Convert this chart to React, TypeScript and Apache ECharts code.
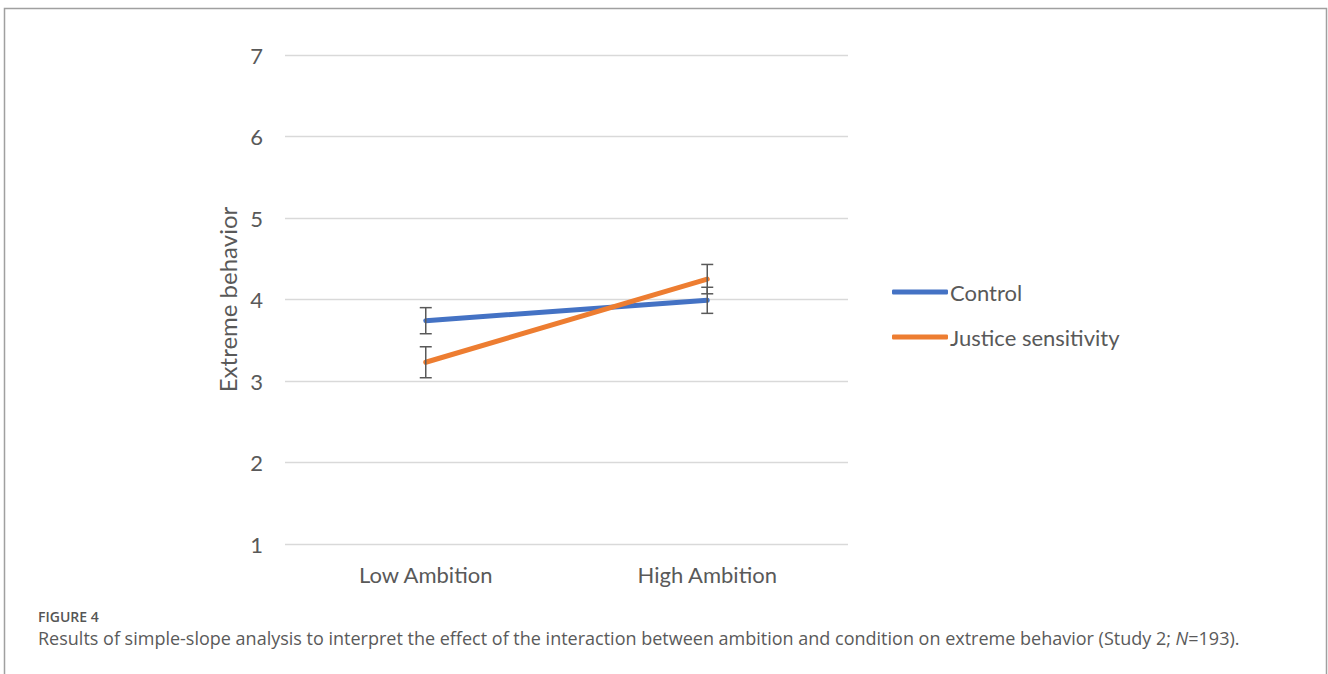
import React, { useEffect, useRef } from "react";
import * as echarts from "echarts";

const categories = ["Low Ambition", "High Ambition"];
const controlValues = [3.74, 3.99];
const justiceValues = [3.23, 4.25];
const controlErr = [0.16, 0.16];
const justiceErr = [0.19, 0.18];
const yTicks = [1, 2, 3, 4, 5, 6, 7];

const AXIS_FONT = "Lato, 'Open Sans', sans-serif";
const CAP_FONT = "'Open Sans', 'Noto Sans', sans-serif";

export default function App() {
  const ref = useRef<HTMLDivElement>(null);
  useEffect(() => {
    if (!ref.current) return;
    const chart = echarts.init(ref.current, null, { renderer: "svg" });
    const errData: number[][] = [];
    categories.forEach((_, i) => {
      errData.push([i, controlValues[i] - controlErr[i], controlValues[i] + controlErr[i]]);
      errData.push([i, justiceValues[i] - justiceErr[i], justiceValues[i] + justiceErr[i]]);
    });
    chart.setOption({
      animation: false,
      backgroundColor: "#ffffff",
      grid: { left: 285, right: 480, top: 55, bottom: 130, containLabel: false },
      legend: {
        orient: "vertical",
        left: 887,
        top: 276,
        itemGap: 23,
        itemWidth: 56,
        itemHeight: 5,
        icon: "roundRect",
        data: ["Control", "Justice sensitivity"],
        textStyle: { color: "#595959", fontSize: 22, fontFamily: AXIS_FONT, padding: [0, 0, 0, -3] },
      },
      xAxis: {
        type: "category",
        data: categories,
        boundaryGap: true,
        axisLine: { show: false },
        axisTick: { show: false },
        axisLabel: { color: "#595959", fontSize: 22, fontFamily: AXIS_FONT, margin: 19 },
      },
      yAxis: {
        type: "value",
        min: yTicks[0],
        max: yTicks[yTicks.length - 1],
        interval: 1,
        name: "Extreme behavior",
        nameLocation: "middle",
        nameGap: 46,
        nameRotate: 90,
        nameTextStyle: { color: "#595959", fontSize: 24, fontFamily: AXIS_FONT },
        axisLine: { show: false },
        axisTick: { show: false },
        axisLabel: { color: "#595959", fontSize: 22, fontFamily: AXIS_FONT, margin: 22 },
        splitLine: { lineStyle: { color: "#d9d9d9", width: 1.3 } },
      },
      series: [
        {
          name: "Control",
          type: "line",
          data: controlValues,
          symbol: "none",
          color: "#4472C4",
          lineStyle: { width: 5, color: "#4472C4", cap: "round" },
          z: 3,
        },
        {
          name: "Justice sensitivity",
          type: "line",
          data: justiceValues,
          symbol: "none",
          color: "#ED7D31",
          lineStyle: { width: 5, color: "#ED7D31", cap: "round" },
          z: 4,
        },
        {
          name: "err",
          type: "custom",
          data: errData,
          z: 5,
          renderItem: (params: any, api: any) => {
            const x = api.value(0);
            const lo = api.coord([x, api.value(1)]);
            const hi = api.coord([x, api.value(2)]);
            const hw = 6;
            const style = { stroke: "#595959", lineWidth: 1.5 };
            return {
              type: "group",
              children: [
                { type: "line", shape: { x1: lo[0], y1: lo[1], x2: hi[0], y2: hi[1] }, style },
                { type: "line", shape: { x1: lo[0] - hw, y1: lo[1], x2: lo[0] + hw, y2: lo[1] }, style },
                { type: "line", shape: { x1: hi[0] - hw, y1: hi[1], x2: hi[0] + hw, y2: hi[1] }, style },
              ],
            };
          },
        },
      ],
      graphic: [
        {
          type: "polyline",
          shape: { points: [[4.5, 674], [4.5, 8.5], [1326.5, 8.5], [1326.5, 674]] },
          style: { stroke: "#a0a0a0", lineWidth: 1.5, fill: "none" },
          silent: true,
        },
        {
          type: "text",
          left: 38,
          top: 609,
          style: { text: "FIGURE 4", fill: "#555555", fontSize: 14, fontWeight: 600, fontFamily: CAP_FONT },
        },
        {
          type: "text",
          left: 38,
          top: 629,
          style: {
            text: "Results of simple-slope analysis to interpret the effect of the interaction between ambition and condition on extreme behavior (Study 2; {i|N}=193).",
            fill: "#5a5a5a",
            fontSize: 18,
            fontFamily: CAP_FONT,
            rich: {
              i: { fontStyle: "italic", fontSize: 18, fontFamily: CAP_FONT, fill: "#5a5a5a" },
            },
          },
        },
      ],
    });
    return () => chart.dispose();
  }, []);
  return (
    <div
      ref={ref}
      style={{ position: "fixed", left: 0, top: 0, width: 1328, height: 674 }}
    />
  );
}
